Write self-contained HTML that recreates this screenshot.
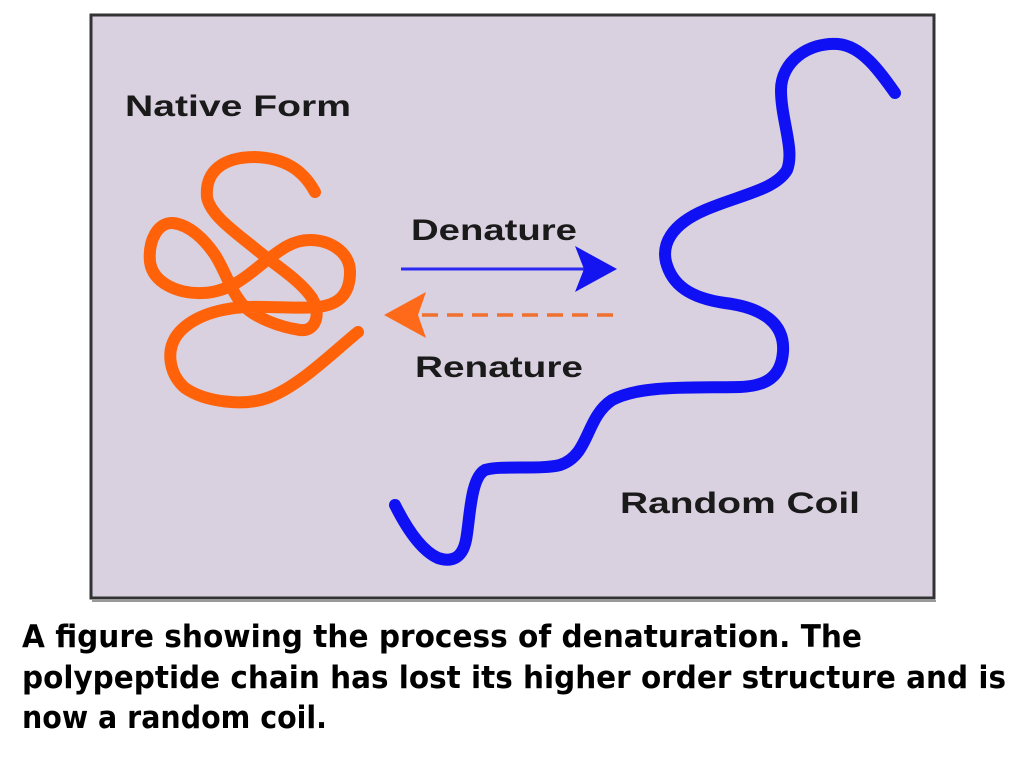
<!DOCTYPE html>
<html><head><style>
html,body{margin:0;padding:0;background:#fff;width:1024px;height:768px;overflow:hidden}
</style></head><body>
<svg width="1024" height="768" viewBox="0 0 1024 768" xmlns="http://www.w3.org/2000/svg">
<rect x="0" y="0" width="1024" height="768" fill="#fff"/>
<rect x="91" y="15" width="843" height="583" fill="#d9d0e0" stroke="#333" stroke-width="3"/>
<line x1="92" y1="601" x2="936" y2="601" stroke="#999" stroke-width="2"/>
<g font-family="'Liberation Sans',sans-serif" font-weight="bold" fill="#1a1a1a" font-size="30">
<text x="125" y="116" textLength="226" lengthAdjust="spacingAndGlyphs">Native Form</text>
<text x="411" y="240" textLength="166" lengthAdjust="spacingAndGlyphs">Denature</text>
<text x="415" y="377" textLength="168" lengthAdjust="spacingAndGlyphs">Renature</text>
<text x="620" y="513" textLength="240" lengthAdjust="spacingAndGlyphs">Random Coil</text>
</g>
<line x1="401" y1="269" x2="585" y2="269" stroke="#2a2af0" stroke-width="3"/>
<polygon points="575,246 617,269 575,292 584,269" fill="#1414f0"/>
<line x1="613" y1="315" x2="420" y2="315" stroke="#f07030" stroke-width="3.5" stroke-dasharray="16,9"/>
<polygon points="384,315 426,292 418,315 426,338" fill="#ff6a1a"/>
<path d="M895,93 C880,72 862,46 838,44 C808,42 781,62 781,90 C781,120 795,150 787,170 C775,190 740,195 705,210 C670,225 662,245 666,262 C672,285 690,298 725,303 C765,308 785,325 783,352 C781,378 765,386 740,387 C690,388 640,385 612,400 C585,418 590,455 560,465 C540,470 500,465 485,470 C470,478 470,520 466,540 C462,560 450,562 438,558 C420,550 405,525 395,505" fill="none" stroke="#1010f5" stroke-width="12" stroke-linecap="round" stroke-linejoin="round"/>
<path d="M315,192 C303,170 285,158 255,157 C222,157 205,172 207,197 C210,215 235,232 257,250 C275,265 300,280 312,298 C322,315 315,332 300,330 C280,327 255,318 243,305 C230,290 225,270 215,255 C205,240 190,225 173,223 C158,222 148,240 150,262 C153,283 178,294 203,293 C228,292 245,278 262,264 C280,250 292,240 310,240 C330,240 350,252 350,272 C350,293 340,305 317,307 C295,309 270,306 245,307 C215,309 190,318 177,335 C165,352 170,375 185,388 C205,402 245,407 270,397 C300,385 330,355 358,332" fill="none" stroke="#ff6208" stroke-width="12" stroke-linecap="round" stroke-linejoin="round"/>
<g font-family="'DejaVu Sans','Liberation Sans',sans-serif" font-weight="bold" fill="#000" font-size="31">
<text x="22" y="647" textLength="840" lengthAdjust="spacingAndGlyphs">A figure showing the process of denaturation. The</text>
<text x="22" y="688" textLength="984" lengthAdjust="spacingAndGlyphs">polypeptide chain has lost its higher order structure and is</text>
<text x="22" y="728" textLength="305" lengthAdjust="spacingAndGlyphs">now a random coil.</text>
</g>
</svg>
</body></html>
